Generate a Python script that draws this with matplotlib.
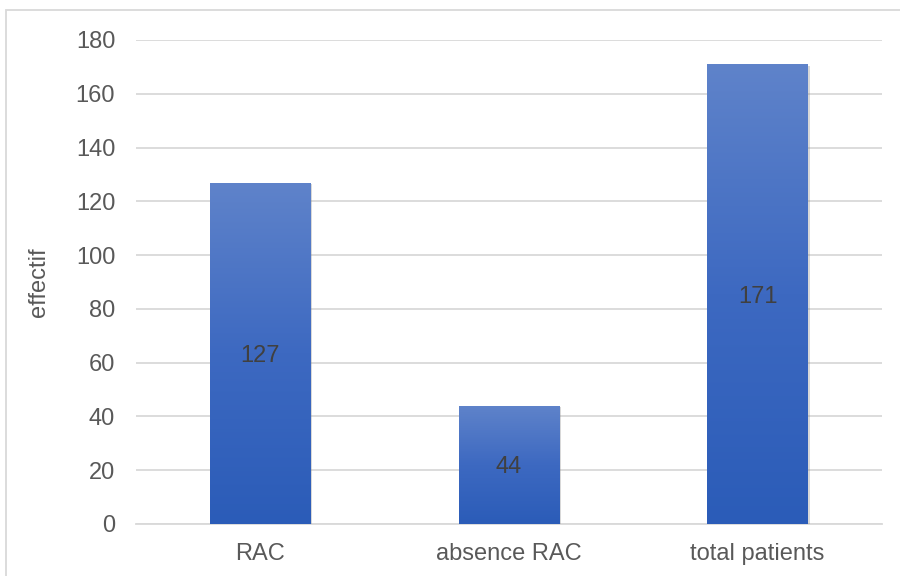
import numpy as np
import matplotlib
matplotlib.use("Agg")
import matplotlib.pyplot as plt
from matplotlib.patches import Rectangle
from matplotlib.colors import LinearSegmentedColormap
import matplotlib.patheffects as pe

# data
categories = ["RAC", "absence RAC", "total patients"]
counts = [127, 44, 171]
yticks = [0, 20, 40, 60, 80, 100, 120, 140, 160, 180]

plt.rcParams["font.family"] = ["Liberation Sans", "DejaVu Sans"]

fig = plt.figure(figsize=(9, 5.76), dpi=100)
ax = fig.add_axes([136 / 900, 1 - 524 / 576, (882 - 136) / 900, (524 - 40) / 576])

# outer chart frame (cut at right and bottom)
fig.patches.append(Rectangle((6 / 900, -0.1), 1.2, 1.1 - 10 / 576,
                             transform=fig.transFigure, fill=False,
                             edgecolor="#d9d9d9", linewidth=1.3, zorder=0))

# vertical gradient, light at the top of each bar, darker at the base
grad = LinearSegmentedColormap.from_list("bar", ["#2b5cb8", "#3d69c1", "#5f83ca"])
grad_img = np.linspace(0, 1, 256).reshape(-1, 1)

x = np.arange(len(categories))
width = 0.406
bars = ax.bar(x, counts, width=width, color="#3d69c1", zorder=3,
              path_effects=[pe.SimplePatchShadow(offset=(1.2, -1.2), shadow_rgbFace="#808080", alpha=0.3),
                            pe.Normal()])
for b, v in zip(bars, counts):
    x0 = b.get_x()
    im = ax.imshow(grad_img, cmap=grad, origin="lower", aspect="auto",
                   extent=[x0, x0 + b.get_width(), 0, v], zorder=4)
    im.set_clip_path(b)
    ax.text(b.get_x() + b.get_width() / 2, v / 2, str(v), ha="center", va="center_baseline",
            fontsize=17, color="#404040", zorder=5)

ax.set_xlim(-0.5, len(categories) - 0.5)
ax.set_ylim(0, 180)
ax.set_yticks(yticks)
ax.set_xticks(x)
ax.set_xticklabels(categories)
ax.tick_params(axis="both", length=0, labelsize=17, labelcolor="#595959")
ax.tick_params(axis="y", pad=15)
ax.tick_params(axis="x", pad=14)
ax.yaxis.grid(True, color="#d9d9d9", linewidth=1.3, zorder=0)
ax.set_axisbelow(True)
for s in ["top", "right", "left"]:
    ax.spines[s].set_visible(False)
ax.spines["bottom"].set_color("#d9d9d9")
ax.spines["bottom"].set_linewidth(1.3)
ax.set_ylabel("effectif", fontsize=17, color="#595959")
ax.yaxis.set_label_coords(-86 / 746, 0.5)

fig.savefig("out.png", dpi=100)
